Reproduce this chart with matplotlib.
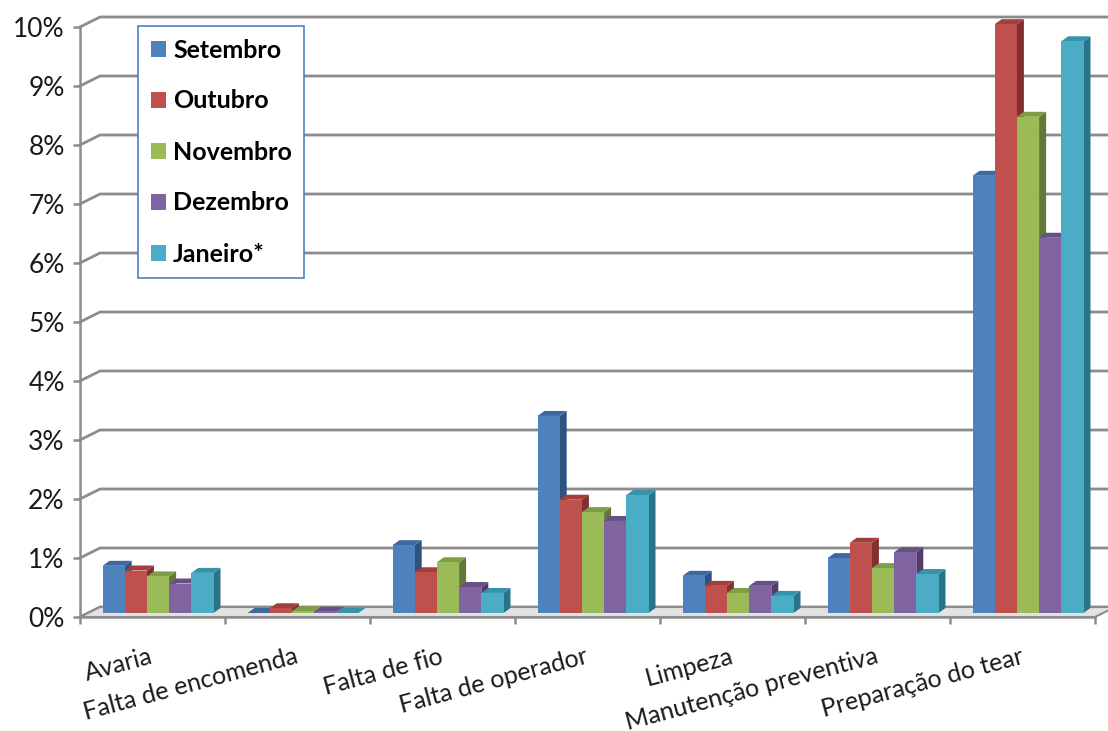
import numpy as np
import matplotlib.pyplot as plt
from matplotlib.patches import Polygon, Patch

# Data (percent)
categories = ['Avaria', 'Falta de encomenda', 'Falta de fio', 'Falta de operador',
              'Limpeza', 'Manutenção preventiva', 'Preparação do tear']
months = ['Setembro', 'Outubro', 'Novembro', 'Dezembro', 'Janeiro*']
setembro = [0.80, 0.00, 1.15, 3.34, 0.63, 0.93, 7.41]
outubro = [0.72, 0.08, 0.69, 1.92, 0.46, 1.19, 9.98]
novembro = [0.62, 0.03, 0.86, 1.71, 0.34, 0.76, 8.41]
dezembro = [0.50, 0.02, 0.44, 1.56, 0.46, 1.03, 6.36]
janeiro = [0.68, 0.00, 0.34, 2.00, 0.29, 0.66, 9.69]
series = [setembro, outubro, novembro, dezembro, janeiro]

front_cols = ['#4F81BD', '#C0504D', '#9BBB59', '#8064A2', '#4BACC6']
top_cols = ['#3D69A0', '#A33E3B', '#7E9E45', '#674F88', '#3792AB']
side_cols = ['#2F5381', '#822F2D', '#62793A', '#513D6C', '#2A7489']

plt.rcParams['font.family'] = ['Lato', 'DejaVu Sans']

W, H = 1108, 731
fig = plt.figure(figsize=(W / 100, H / 100), dpi=100)
x0, x1, ytop, ybot = 80, 1095, 27, 617
ax = fig.add_axes([x0 / W, 1 - ybot / H, (x1 - x0) / W, (ybot - ytop) / H])
ncat = len(categories)
ax.set_xlim(0, ncat)
ax.set_ylim(0, 10)
ax.patch.set_visible(False)

# pixel -> data helpers
sx = (x1 - x0) / ncat
sy = (ybot - ytop) / 10.0
px = lambda p: p / sx
py = lambda p: p / sy

grid_c = '#8C8C8C'
gx, gy = px(20), py(10)

# back wall gridlines with left wall diagonals
for v in range(11):
    ax.plot([0, gx, ncat + gx], [v, v + gy, v + gy], color=grid_c, lw=2,
            clip_on=False, zorder=1, solid_joinstyle='miter')

# floor
ax.add_patch(Polygon([(0, 0), (ncat, 0), (ncat + gx, gy), (gx, gy)], closed=True,
                     facecolor='#E3E3E3', edgecolor=grid_c, lw=1.5, clip_on=False, zorder=2))

# 3D-looking bars
w = px(22.2)
off = px(22.5)
dx, dy = px(7), py(5)
base = py(4)
for j in range(ncat):
    for k, vals in enumerate(series):
        v = vals[j]
        xl = j + off + k * w
        z = 3 + j * 10 + k
        ax.add_patch(Polygon([(xl + w, base), (xl + w + dx, base + dy),
                              (xl + w + dx, base + v + dy), (xl + w, base + v)],
                             closed=True, facecolor=side_cols[k], edgecolor='none',
                             zorder=z, clip_on=False))
        ax.add_patch(Polygon([(xl, base + v), (xl + w, base + v),
                              (xl + w + dx, base + v + dy), (xl + dx, base + v + dy)],
                             closed=True, facecolor=top_cols[k], edgecolor='none',
                             zorder=z, clip_on=False))
        ax.add_patch(Polygon([(xl, base), (xl + w, base), (xl + w, base + v), (xl, base + v)],
                             closed=True, facecolor=front_cols[k], edgecolor='none',
                             zorder=z, clip_on=False))

# axes lines and ticks
for s in ['top', 'right']:
    ax.spines[s].set_visible(False)
for s in ['left', 'bottom']:
    ax.spines[s].set_color(grid_c)
    ax.spines[s].set_linewidth(1.8)
    ax.spines[s].set_zorder(200)
ax.set_yticks(range(11))
ax.set_yticklabels([f'{i}%' for i in range(11)], fontsize=19, color='#1a1a1a')
ax.set_xticks(range(ncat + 1))
ax.set_xticklabels([])
ax.tick_params(axis='both', color=grid_c, width=1.8, length=5)
ax.tick_params(axis='y', pad=6)

# category labels, rotated and anchored at right end
for j, name in enumerate(categories):
    ax.annotate(name, xy=(j + 0.5, 0), xytext=(2, -46), textcoords='offset pixels',
                rotation=15, rotation_mode='anchor', ha='right', va='baseline',
                fontsize=18, color='#1a1a1a', annotation_clip=False)

# legend
handles = [Patch(facecolor=c, edgecolor='none') for c in front_cols]
leg = ax.legend(handles, months, loc='upper left', bbox_to_anchor=(138 / W, 1 - 26 / H),
                bbox_transform=fig.transFigure, prop={'weight': 'bold', 'size': 18},
                frameon=True, fancybox=False, framealpha=1, edgecolor='#4F81BD',
                handlelength=0.6, handleheight=0.6, handletextpad=0.3,
                labelspacing=1.12, borderpad=0.5, borderaxespad=0)
leg.get_frame().set_linewidth(1.2)
leg.set_zorder(500)

fig.savefig('out.png', dpi=100)
